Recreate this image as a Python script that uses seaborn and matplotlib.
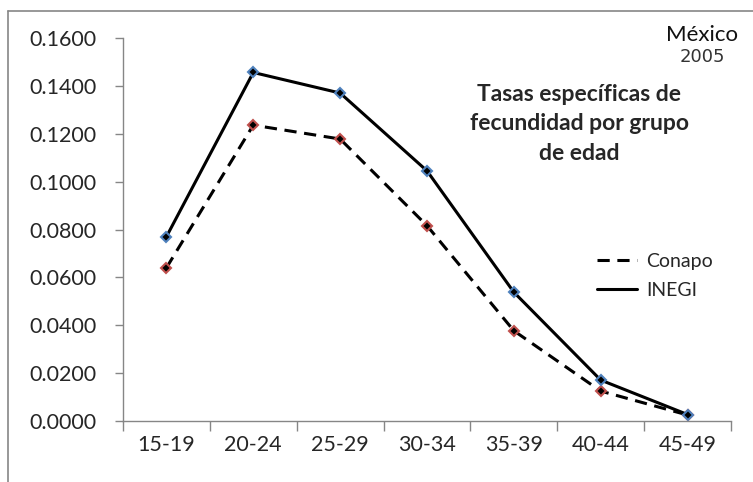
import pandas as pd
import seaborn as sns
import matplotlib.pyplot as plt
from matplotlib.lines import Line2D

# Data
grupos = ['15-19', '20-24', '25-29', '30-34', '35-39', '40-44', '45-49']
inegi = [0.0770, 0.1456, 0.1370, 0.1045, 0.0538, 0.0171, 0.0027]
conapo = [0.0640, 0.1236, 0.1178, 0.0816, 0.0377, 0.0125, 0.0025]
yticks = [0.0, 0.02, 0.04, 0.06, 0.08, 0.10, 0.12, 0.14, 0.16]

df = pd.DataFrame({'grupo': grupos, 'INEGI': inegi, 'Conapo': conapo})

sns.set_style('white')
plt.rcParams['font.family'] = ['Lato', 'DejaVu Sans']

fig = plt.figure(figsize=(7.53, 4.82), dpi=100)
ax = fig.add_axes([123 / 753, 1 - 421 / 482, (731 - 123) / 753, (421 - 38) / 482])

# Conapo (dashed) and INEGI (solid)
sns.lineplot(data=df, x='grupo', y='Conapo', ax=ax, color='black', lw=2.2,
             linestyle=(0, (4, 2.5)), marker='D', markersize=5,
             markerfacecolor='black', markeredgecolor='#C0504D',
             markeredgewidth=1.5, label='Conapo')
sns.lineplot(data=df, x='grupo', y='INEGI', ax=ax, color='black', lw=2.2,
             marker='D', markersize=5, markerfacecolor='black',
             markeredgecolor='#4F81BD', markeredgewidth=1.5, label='INEGI')

ax.set_xlim(-0.5, len(grupos) - 0.5)
ax.set_ylim(0, 0.16)
ax.set_yticks(yticks)
ax.set_yticklabels([f'{v:.4f}' for v in yticks])
ax.set_xticks(range(len(grupos)))
ax.set_xticklabels(grupos)
ax.set_xticks([i - 0.5 for i in range(len(grupos) + 1)], minor=True)
ax.set_xlabel('')
ax.set_ylabel('')

gray = '#868686'
for s in ['top', 'right']:
    ax.spines[s].set_visible(False)
for s in ['left', 'bottom']:
    ax.spines[s].set_color(gray)
    ax.spines[s].set_linewidth(1)
ax.tick_params(axis='y', direction='out', length=6, width=1, color=gray,
               labelsize=15.5, pad=13, left=True)
ax.tick_params(axis='x', which='major', length=0, labelsize=15.5, pad=10)
ax.tick_params(axis='x', which='minor', direction='out', length=7, width=1,
               color=gray, bottom=True)

leg = ax.legend(loc='upper left', bbox_to_anchor=(597 / 753, 1 - 253 / 482),
                bbox_transform=fig.transFigure, frameon=False, fontsize=14,
                handlelength=2.05, handletextpad=0.5, labelspacing=0.6,
                borderpad=0, borderaxespad=0)
for h in leg.get_lines():
    h.set_marker('')

fig.text(579 / 753, 1 - 124 / 482,
         'Tasas específicas de\nfecundidad por grupo\nde edad',
         ha='center', va='center', fontsize=16.5, fontweight='bold',
         linespacing=1.5)
fig.text(702 / 753, 1 - 35 / 482, 'México', ha='center', va='center',
         fontsize=16, color='#111111')
fig.text(702 / 753, 1 - 57 / 482, '2005', ha='center', va='center',
         fontsize=13, color='#333333', family='DejaVu Sans')

# chart border (only top and left edges are inside the picture)
fig.add_artist(Line2D([8 / 753, 8 / 753], [0, 1 - 11 / 482], color=gray, lw=1.2))
fig.add_artist(Line2D([8 / 753, 1], [1 - 11 / 482, 1 - 11 / 482], color=gray, lw=1.2))

fig.savefig('out.png', dpi=100)
